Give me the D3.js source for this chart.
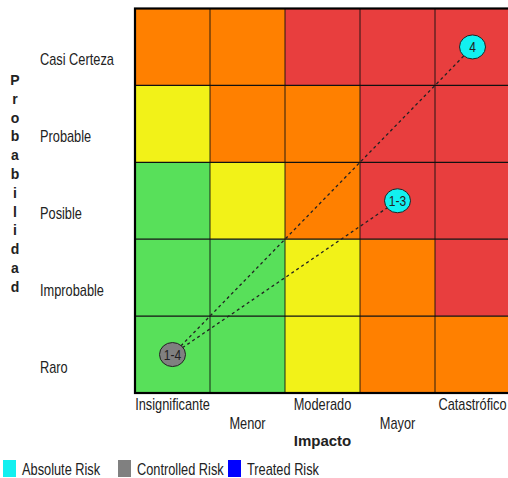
<!DOCTYPE html>
<html>
<head>
<meta charset="utf-8">
<script src="https://cdn.jsdelivr.net/npm/d3@7/dist/d3.min.js"></script>
<style>
  html, body { margin: 0; padding: 0; background: #fff; overflow: hidden; }
  svg { display: block; }
  text { font-family: "Liberation Sans", Arial, sans-serif; fill: #222; }
</style>
</head>
<body>
<svg id="chart" width="508" height="478"></svg>
<script>
// Matrix axes
const impactos = ["Insignificante", "Menor", "Moderado", "Mayor", "Catastrófico"];
const probabilidades = ["Casi Certeza", "Probable", "Posible", "Improbable", "Raro"];

// Risk level of each cell, one row per probability (top to bottom)
const nivelCasiCerteza = ["alto", "alto", "extremo", "extremo", "extremo"];
const nivelProbable    = ["moderado", "alto", "alto", "extremo", "extremo"];
const nivelPosible     = ["bajo", "moderado", "alto", "extremo", "extremo"];
const nivelImprobable  = ["bajo", "bajo", "moderado", "alto", "extremo"];
const nivelRaro        = ["bajo", "bajo", "moderado", "alto", "alto"];
const niveles = [nivelCasiCerteza, nivelProbable, nivelPosible, nivelImprobable, nivelRaro];

const coloresNivel = { bajo: "#58e05a", moderado: "#f2f218", alto: "#ff8000", extremo: "#e83e3e" };

// Plotted risks
const riesgoEtiquetas     = ["4", "1-3", "1-4"];
const riesgoImpacto       = ["Catastrófico", "Mayor", "Insignificante"];
const riesgoProbabilidad  = ["Casi Certeza", "Posible", "Raro"];
const riesgoTipo          = ["absolute", "absolute", "controlled"];

// Legend
const leyendaEtiquetas = ["Absolute Risk", "Controlled Risk", "Treated Risk"];
const leyendaTipos     = ["absolute", "controlled", "treated"];
const coloresTipo = { absolute: "#12f0f0", controlled: "#808080", treated: "#0000ff" };

// Narrow text: regular face squeezed horizontally
const ANCHO = 0.8;
function narrow(sel, px, py) {
  return sel.attr("transform", (d, i) => `translate(${px(d, i)},${py(d, i)}) scale(${ANCHO},1)`);
}

const svg = d3.select("#chart");

const x = d3.scaleBand().domain(impactos).range([135, 510]);
const y = d3.scaleBand().domain(probabilidades).range([8.5, 393]);

// Cells
const celdas = [];
probabilidades.forEach((p, i) => impactos.forEach((imp, j) => celdas.push({ p, imp, nivel: niveles[i][j] })));

svg.append("g").selectAll("rect").data(celdas).join("rect")
  .attr("x", d => x(d.imp))
  .attr("y", d => y(d.p))
  .attr("width", x.bandwidth())
  .attr("height", y.bandwidth())
  .attr("fill", d => coloresNivel[d.nivel]);

// Grid lines
const grid = svg.append("g").attr("stroke", "#111").attr("stroke-width", 1.2);
impactos.slice(1).forEach(imp => {
  grid.append("line").attr("x1", x(imp)).attr("x2", x(imp))
    .attr("y1", y.range()[0]).attr("y2", y.range()[1]).attr("stroke-opacity", 0.75);
});
probabilidades.slice(1).forEach(p => {
  grid.append("line").attr("y1", y(p)).attr("y2", y(p))
    .attr("x1", x.range()[0]).attr("x2", x.range()[1]);
});
svg.append("rect")
  .attr("x", x.range()[0]).attr("y", y.range()[0])
  .attr("width", x.range()[1] - x.range()[0]).attr("height", y.range()[1] - y.range()[0])
  .attr("fill", "none").attr("stroke", "#000").attr("stroke-width", 2.2);

// Risk points
const riesgos = riesgoEtiquetas.map((etq, i) => ({
  etq, tipo: riesgoTipo[i],
  cx: x(riesgoImpacto[i]) + x.bandwidth() / 2,
  cy: y(riesgoProbabilidad[i]) + y.bandwidth() / 2
}));

// Dashed links from the controlled risk to each absolute risk
const controlado = riesgos.find(r => r.tipo === "controlled");
svg.append("g").selectAll("line").data(riesgos.filter(r => r.tipo === "absolute")).join("line")
  .attr("x1", controlado.cx).attr("y1", controlado.cy)
  .attr("x2", d => d.cx).attr("y2", d => d.cy)
  .attr("stroke", "#222").attr("stroke-width", 1.3).attr("stroke-dasharray", "3,3");

const marcas = svg.append("g").selectAll("g").data(riesgos).join("g")
  .attr("transform", d => `translate(${d.cx},${d.cy})`);
marcas.append("ellipse")
  .attr("rx", 13).attr("ry", 12)
  .attr("fill", d => coloresTipo[d.tipo])
  .attr("stroke", "#222").attr("stroke-width", 1);
marcas.append("text")
  .attr("text-anchor", "middle").attr("dy", "0.36em")
  .attr("transform", `scale(${ANCHO},1)`)
  .style("font-size", "15px")
  .text(d => d.etq);

// Probability labels
narrow(svg.append("g").selectAll("text").data(probabilidades).join("text"),
    () => 40, d => y(d) + y.bandwidth() / 2 + 18)
  .style("font-size", "16px")
  .text(d => d);

// Impact labels, alternating rows
narrow(svg.append("g").selectAll("text").data(impactos).join("text"),
    d => x(d) + x.bandwidth() / 2, (d, i) => i % 2 === 0 ? 410 : 429)
  .attr("text-anchor", "middle")
  .style("font-size", "16px")
  .text(d => d);

// Axis titles
svg.append("text")
  .attr("x", x(impactos[2]) + x.bandwidth() / 2).attr("y", 446)
  .attr("text-anchor", "middle")
  .style("font-size", "15px").style("font-weight", "bold")
  .text("Impacto");

svg.append("g").selectAll("text").data(Array.from("Probabilidad")).join("text")
  .attr("x", 15)
  .attr("y", (d, i) => 85 + i * 18.8)
  .attr("text-anchor", "middle")
  .style("font-size", "14px").style("font-weight", "bold")
  .text(d => d);

// Legend
const leyendaX = [3, 118, 228];
const leyenda = svg.append("g").selectAll("g").data(leyendaTipos).join("g")
  .attr("transform", (d, i) => `translate(${leyendaX[i]},460)`);
leyenda.append("rect").attr("width", 13).attr("height", 17).attr("fill", d => coloresTipo[d]);
narrow(leyenda.append("text"), () => 19, () => 15)
  .style("font-size", "16px")
  .text((d, i) => leyendaEtiquetas[i]);
</script>
</body>
</html>
